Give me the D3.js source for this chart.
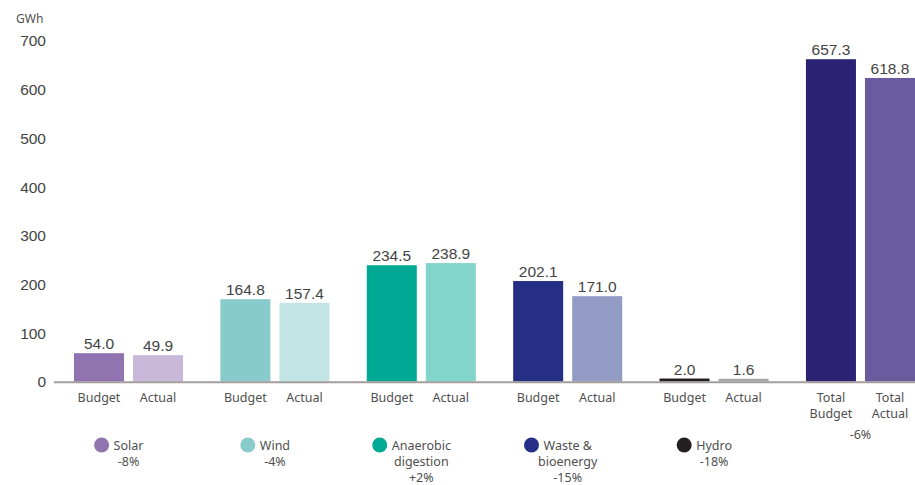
<!DOCTYPE html>
<html>
<head>
<meta charset="utf-8">
<script src="https://cdn.jsdelivr.net/npm/d3@7"></script>
<style>
  html, body { margin: 0; padding: 0; background: #fff; }
  svg { display: block; }
  .num { font-family: "Liberation Sans", Arial, sans-serif; fill: #444; }
  .lbl { font-family: "Noto Sans", "Open Sans", sans-serif; fill: #505050; }
</style>
</head>
<body>
<svg id="chart" width="915" height="485"></svg>
<script>
// Generation by technology, GWh
const categories = ["Solar", "Wind", "Anaerobic digestion", "Waste & bioenergy", "Hydro"];
const legendLines = [["Solar"], ["Wind"], ["Anaerobic", "digestion"], ["Waste &", "bioenergy"], ["Hydro"]];
const budget = [54.0, 164.8, 234.5, 202.1, 2.0];
const actual = [49.9, 157.4, 238.9, 171.0, 1.6];
const changes = ["-8%", "-4%", "+2%", "-15%", "-18%"];
const totalBudget = 657.3;
const totalActual = 618.8;
const totalChange = "-6%";
const budgetColors = ["#9173b0", "#88cbca", "#00a994", "#252f85", "#231f20"];
const actualColors = ["#c9b8da", "#c2e4e4", "#81d5ca", "#929bc4", "#a8a8a8"];
const totalColors = ["#2b2273", "#6a5b9e"];
const yTicks = [0, 100, 200, 300, 400, 500, 600, 700];
const kinds = ["Budget", "Actual"];

const svg = d3.select("#chart");

const groups = [...categories, "Total"];
const x = d3.scaleBand().domain(groups).range([74, 915]).paddingInner(0.255).paddingOuter(0);
const xi = d3.scaleBand().domain(kinds).range([0, x.bandwidth()]).paddingInner(0.153);
const y = d3.scaleLinear().domain([0, 700]).range([379.5, 38.4]);
const baseY = 381.5;

// bar records
const bars = [];
categories.forEach((c, i) => {
  bars.push({ g: c, k: "Budget", v: budget[i], color: budgetColors[i], label: ["Budget"] });
  bars.push({ g: c, k: "Actual", v: actual[i], color: actualColors[i], label: ["Actual"] });
});
bars.push({ g: "Total", k: "Budget", v: totalBudget, color: totalColors[0], label: ["Total", "Budget"] });
bars.push({ g: "Total", k: "Actual", v: totalActual, color: totalColors[1], label: ["Total", "Actual"] });

// y axis labels (no line)
svg.append("text").attr("class", "lbl").attr("x", 16).attr("y", 23)
  .attr("font-size", 12).text("GWh");
const yAxis = d3.axisLeft(y).tickValues(yTicks).tickSize(0).tickPadding(0).tickFormat(d3.format("d"));
const ya = svg.append("g").attr("transform", "translate(46,2.5)").call(yAxis);
ya.select(".domain").remove();
ya.selectAll("text").attr("class", "num").attr("font-size", 15.5).attr("fill", "#444");

// bars
svg.append("g").selectAll("rect").data(bars).join("rect")
  .attr("x", d => x(d.g) + xi(d.k))
  .attr("width", xi.bandwidth())
  .attr("y", d => y(d.v))
  .attr("height", d => baseY - y(d.v))
  .attr("fill", d => d.color);

// baseline
svg.append("line").attr("x1", 54).attr("x2", 915).attr("y1", 382.2).attr("y2", 382.2)
  .attr("stroke", "#a39d9b").attr("stroke-width", 2);

// value labels
svg.append("g").selectAll("text").data(bars).join("text")
  .attr("class", "num")
  .attr("x", d => x(d.g) + xi(d.k) + xi.bandwidth() / 2)
  .attr("y", d => y(d.v) - 4)
  .attr("text-anchor", "middle")
  .attr("font-size", 15.5)
  .text(d => d.v.toFixed(1));

// category labels below the axis
const cl = svg.append("g").selectAll("text").data(bars).join("text")
  .attr("class", "lbl")
  .attr("text-anchor", "middle")
  .attr("font-size", 12.5)
  .attr("x", d => x(d.g) + xi(d.k) + xi.bandwidth() / 2)
  .attr("y", 402);
cl.selectAll("tspan").data(d => d.label.map(t => ({ t, x: x(d.g) + xi(d.k) + xi.bandwidth() / 2 })))
  .join("tspan")
  .attr("x", d => d.x)
  .attr("dy", (d, i) => i === 0 ? 0 : 16)
  .text(d => d.t);

// total change
svg.append("text").attr("class", "lbl").attr("text-anchor", "middle").attr("font-size", 12.5)
  .attr("x", x("Total") + x.bandwidth() / 2).attr("y", 438.5).text(totalChange);

// legend
categories.forEach((c, i) => {
  const cx = x(c) + x.bandwidth() / 2;
  const lines = [...legendLines[i], changes[i]];
  const t = svg.append("text").attr("class", "lbl").attr("text-anchor", "middle")
    .attr("font-size", 12.5).attr("y", 450);
  t.selectAll("tspan").data(lines).join("tspan")
    .attr("x", cx).attr("dy", (d, j) => j === 0 ? 0 : 16).text(d => d);
  const w = t.select("tspan").node().getComputedTextLength();
  svg.append("circle").attr("cx", cx - w / 2 - 12).attr("cy", 445).attr("r", 7.5)
    .attr("fill", budgetColors[i]);
});
</script>
</body>
</html>
